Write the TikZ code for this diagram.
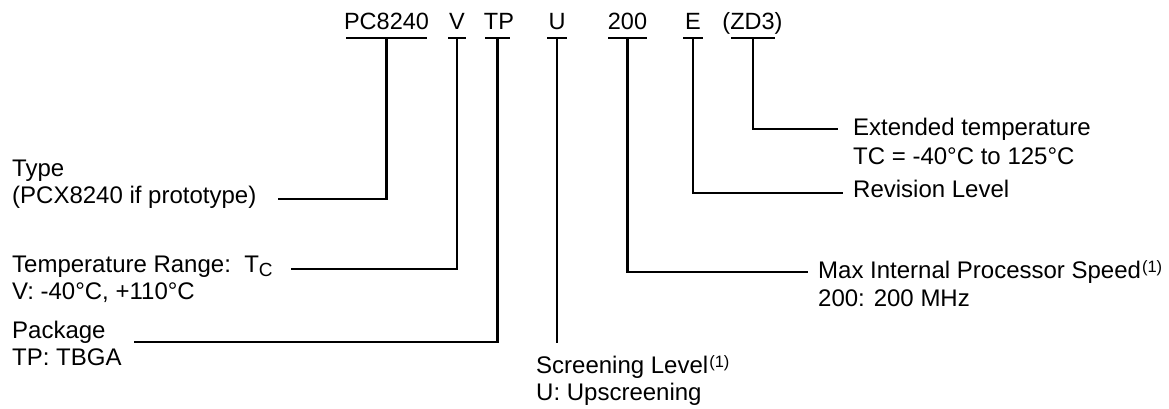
\documentclass[tikz,border=0pt]{standalone}
\usepackage{fontspec}
\setmainfont{Liberation Sans}
\begin{document}
\begin{tikzpicture}[x=1pt,y=-1pt,
  txt/.style={anchor=base west, inner sep=0pt, font=\fontsize{24}{28}\selectfont},
  code/.style={anchor=base, inner sep=0pt, font=\fontsize{23.5}{28}\selectfont},
  uline/.style={fill=black, inner sep=0pt, minimum height=2.2pt},
  conn/.style={line width=2.2pt}]
\useasboundingbox (0,0) rectangle (1169,409);
\newcommand{\supone}{\kern1pt\raisebox{6pt}{\fontsize{16.5}{16}\selectfont(1)}}
% codes
\node[code] (pc)  at (386.5,30) {PC8240};
\node[code] (v)   at (457,30) {V};
\node[code] (tp)  at (499,30) {TP};
\node[code] (u)   at (557,30) {U};
\node[code] (s200) at (627.5,30) {200};
\node[code] (e)   at (693,30) {E};
\node[code] (zd)  at (752.5,30) {(ZD3)};
% underlines
\node[uline, minimum width=81pt] (pcu) at (386.5,38) {};
\node[uline, minimum width=18pt] (vu) at (457,38) {};
\node[uline, minimum width=25pt] (tpu) at (497.5,38) {};
\node[uline, minimum width=20pt] (uu) at (557,38) {};
\node[uline, minimum width=39pt] (s200u) at (627.5,38) {};
\node[uline, minimum width=20pt] (eu) at (693,38) {};
\node[uline, minimum width=44pt] (zdu) at (753,38) {};
% labels
\node[txt] (type1) at (12,176.5) {Type};
\node[txt] (type2) at (12,203.5) {(PCX8240 if prototype)};
\node[txt] (temp1) at (12,272.5) {Temperature Range:\ \ T\raisebox{-4pt}{\fontsize{19}{19}\selectfont C}};
\node[txt] (temp2) at (12,299.5) {V: -40°C, +110°C};
\node[txt] (pkg1) at (12,338.5) {Package};
\node[txt] (pkg2) at (12,365.5) {TP: TBGA};
\node[txt] (scr1) at (536,373.5) {Screening Level\supone};
\node[txt] (scr2) at (536,400.5) {U: Upscreening};
\node[txt] (max1) at (818,278.5) {Max Internal Processor Speed\supone};
\node[txt] (max2) at (818,306.5) {200: 200 MHz};
\node[txt] (rev) at (853,197.5) {Revision Level};
\node[txt] (ext1) at (853,135.5) {Extended temperature};
\node[txt] (ext2) at (853,164) {TC = -40°C to 125°C};
% connector ends
\coordinate (typeE) at (278,199);
\coordinate (tempE) at (291,269);
\coordinate (pkgE) at (134,342);
\coordinate (scrE) at (557,343);
\coordinate (maxE) at (808,272);
\coordinate (revE) at (843,193);
\coordinate (extE) at (838,129);
% connectors
\draw[conn] (pcu.center) |- (typeE);
\draw[conn] (vu.center) |- (tempE);
\draw[conn] (tpu.center) |- (pkgE);
\draw[conn] (uu.center) -- (scrE);
\draw[conn] (s200u.center) |- (maxE);
\draw[conn] (eu.center) |- (revE);
\draw[conn] (zdu.center) |- (extE);
\end{tikzpicture}
\end{document}
